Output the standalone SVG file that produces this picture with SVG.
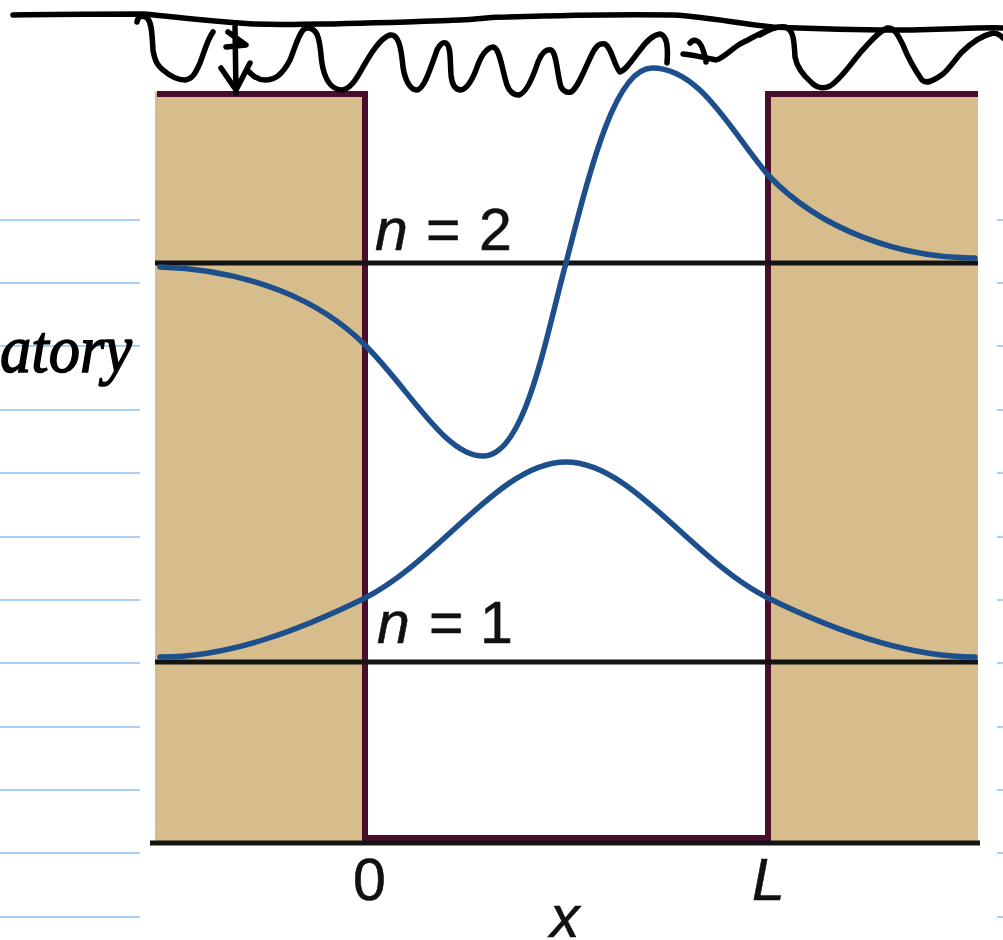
<svg xmlns="http://www.w3.org/2000/svg" width="1003" height="940" viewBox="0 0 1003 940">
<style>
.nb{stroke:#a9d1f7;stroke-width:2;fill:none}
.tan{fill:#d7bd8c}
.well{stroke:#4a0d2c;stroke-width:6;fill:none;stroke-linejoin:miter}
.lvl{stroke:#141414;stroke-width:5;fill:none}
.psi{stroke:#1d4f8d;stroke-width:5.5;fill:none;stroke-linecap:round}
.ink{stroke:#000;stroke-width:5.5;fill:none;stroke-linecap:round;stroke-linejoin:round}
.lbl{font-family:"Liberation Sans",Arial,sans-serif;font-size:59px;fill:#111;stroke:#111;stroke-width:0.6}
.it{font-style:italic}
.hand{font-family:"Liberation Serif","Times New Roman",serif;font-style:italic;font-size:68px;fill:#000;stroke:#000;stroke-width:1.5}
</style>
<rect width="1003" height="940" fill="#fff"/>
<g id="notebook-lines">
<path class="nb" d="M0,220H140M0,283H140M0,346H140M0,410H140M0,473H140M0,537H140M0,600H140M0,663H140M0,727H140M0,790H140M0,853H140M0,917H140"/>
<path class="nb" d="M997,220H1003M997,283H1003M997,346H1003M997,410H1003M997,473H1003M997,537H1003M997,600H1003M997,663H1003M997,727H1003M997,790H1003M997,853H1003M997,917H1003"/>
</g>
<g id="barriers">
<rect class="tan" x="155" y="92" width="210" height="751"/>
<rect class="tan" x="768" y="92" width="210" height="751"/>
</g>
<g id="well">
<path class="well" d="M157,94H365V838H768V94H978"/>
</g>
<g id="levels">
<path class="lvl" d="M155,263H978"/>
<path class="lvl" d="M155,662H978"/>
<path class="lvl" d="M150,843H980"/>
</g>
<g id="psi1">
<path class="psi" d="M160,657C230,657 300,630 365,598C440,560 500,462 566,462C632,462 692,560 768,598C833,630 905,657 975,657"/>
</g>
<g id="psi2">
<path class="psi" d="M160,267C250,270 320,300 365,345C410,390 445,456 483,456C525,456 545,340 566,263C590,170 615,68 652,68C700,68 730,130 768,175C820,230 900,258 975,258"/>
</g>
<g id="labels">
<text class="lbl" y="250"><tspan class="it" x="375">n</tspan><tspan x="426">=</tspan><tspan x="479">2</tspan></text>
<text class="lbl" y="643"><tspan class="it" x="377">n</tspan><tspan x="429">=</tspan><tspan x="480">1</tspan></text>
<text class="lbl" x="353" y="900">0</text>
<text class="lbl it" x="752" y="900">L</text>
<text class="lbl it" x="550" y="937">x</text>
</g>
<g id="handwriting">
<text class="hand" x="0" y="372" textLength="132" lengthAdjust="spacingAndGlyphs">atory</text>
<path class="ink" d="M13,15C60,14 110,14 143,14C160,15 190,20 253,24C290,25 300,24 320,24C380,23 430,21 460,20C480,19 490,17 507,17C570,15 620,14 673,15C710,17 740,24 773,27C820,29 860,30 893,30C940,30 980,27 1003,28"/>
<path class="ink" d="M137,22C138,16 142,15 147,18C152,22 152,35 153,50C155,62 158,66 163,70C170,76 177,80 185,80C193,79 196,72 200,63C204,53 207,40 213,32"/>
<path class="ink" d="M235,27L236,93M228,32L246,45L226,47M221,68L236,90L250,63"/>
<path class="ink" d="M247,70C252,75 257,80 265,80C275,80 282,75 290,60C295,48 297,38 303,30C308,26 315,28 318,37C322,50 320,60 324,72C327,82 333,90 342,90C350,89 356,80 363,67C370,55 380,38 390,35C398,34 401,45 403,67C405,80 410,90 417,90C424,89 430,70 437,50C440,44 443,42 446,43C451,46 450,60 451,75C452,85 455,90 461,90C467,89 472,80 476,70C480,58 485,48 493,47C500,48 502,70 507,85C510,93 514,95 519,95C526,93 532,80 538,62C542,52 546,49 551,50C557,53 557,75 561,87C564,92 567,93 571,92C578,88 584,70 593,52C597,45 600,43 605,44C612,48 614,66 620,72C626,70 632,60 640,50C646,42 652,35 660,34C668,36 668,50 667,63"/>
<path class="ink" d="M690,43C694,38 700,40 703,50C705,56 706,60 706,62M683,54C695,55 705,58 716,60C725,57 730,50 740,44C752,38 762,32 773,28"/>
<path class="ink" d="M760,35C770,29 778,26 785,27C792,29 794,35 795,57C797,68 805,77 812,83C817,88 824,89 830,86C840,80 850,65 860,53C870,42 878,32 887,28C894,27 898,35 903,45C908,58 915,70 922,80C926,84 932,82 943,74C950,68 956,58 962,52C970,44 980,36 993,33C998,33 1001,36 1003,38"/>
</g>
</svg>
